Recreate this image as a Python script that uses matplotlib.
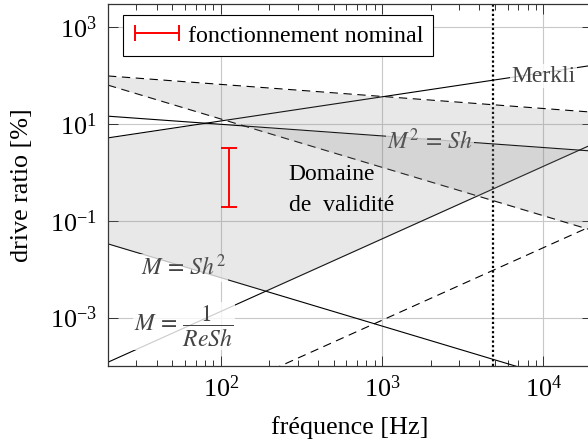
import numpy as np
import matplotlib
matplotlib.use('Agg')
from matplotlib import pyplot as plt
from matplotlib.container import ErrorbarContainer
from matplotlib.legend_handler import HandlerErrorbar
from matplotlib.ticker import LogLocator, NullLocator, NullFormatter

plt.rcParams['font.family'] = ['Liberation Serif', 'DejaVu Serif']
plt.rcParams['mathtext.fontset'] = 'stix'
plt.rcParams['font.size'] = 17

# frequences [Hz] aux bords du graphe
freq = [20, 20000]

# drive ratio [%] a ces deux frequences - lignes pleines
merkli = [5.2, 164]
m2_sh = [14.6, 2.78]
m_sh2 = [0.0335, 3.35e-5]
m_resh = [1.2e-4, 3.8]

# memes limites - lignes en tirets
m2_sh_b = [99, 17.7]
m_sh2_b = [64, 0.064]
m_resh_b = [2.5e-6, 0.079]

f_limite = 4900
f_nominal = 113
dr_nominal = [0.19, 3.15]

LABEL_COLOR = '#444444'
DASH = (0, (7.5, 5))
BIG = 18.8

fg = np.logspace(np.log10(freq[0]), np.log10(freq[1]), 600)


def on_grid(vals):
    # droite en log-log entre les deux extremites
    return 10 ** np.interp(np.log10(fg), np.log10(freq), np.log10(vals))


fig = plt.figure(figsize=(5.88, 4.48), dpi=100)
ax = fig.add_axes([0.1837, 0.183, 0.823, 0.8074])
ax.set_xscale('log')
ax.set_yscale('log')

# droites
for vals in (merkli, m2_sh, m_sh2, m_resh):
    ax.plot(freq, vals, color='black', lw=0.8, zorder=2)
for vals in (m2_sh_b, m_sh2_b, m_resh_b):
    ax.plot(freq, vals, color='black', lw=0.8, ls=DASH, zorder=2)

ax.axvline(f_limite, color='black', lw=1.6, ls=(0, (1, 1.1)), zorder=2)

# domaines de validite
low_a = np.maximum(on_grid(m_sh2), on_grid(m_resh))
up_a = np.minimum(on_grid(merkli), on_grid(m2_sh))
ax.fill_between(fg, low_a, up_a, where=up_a > low_a, interpolate=True,
                color='0.5', alpha=0.18, lw=0, zorder=3.5)
low_b = np.maximum(on_grid(m_sh2_b), on_grid(m_resh_b))
up_b = on_grid(m2_sh_b)
ax.fill_between(fg, low_b, up_b, where=up_b > low_b, interpolate=True,
                color='0.5', alpha=0.18, lw=0, zorder=3.5)

# etiquettes
box = dict(fc='white', ec='none', alpha=0.8, pad=1)
ax.text(6350, 98, 'Merkli', ha='left', va='center', color=LABEL_COLOR,
        bbox=box, zorder=3)
ax.text(1980, 4.3, r'$M^2\,=\,Sh$', ha='center', va='center',
        color=LABEL_COLOR, bbox=box, zorder=3)
ax.text(58.9, 0.0107, r'$M\,=\,Sh^2$', ha='center', va='center',
        color=LABEL_COLOR, bbox=box, zorder=3)
ax.text(58.9, 6.6e-4, r'$M\,=\,\dfrac{1}{ReSh}$', ha='center', va='center',
        color=LABEL_COLOR, bbox=box, zorder=3)
ax.text(263, 0.43, 'Domaine\nde  validité', ha='left', va='center',
        color='black', linespacing=1.65, zorder=4)

# point de fonctionnement
c = np.sqrt(dr_nominal[0] * dr_nominal[1])
ax.errorbar([f_nominal], [c], yerr=[[c - dr_nominal[0]], [dr_nominal[1] - c]],
            fmt='none', ecolor='red', elinewidth=1.4, capsize=5.6,
            capthick=1.4, zorder=4)
proxy = ax.errorbar([np.nan], [np.nan], xerr=[1], fmt='none', ecolor='red',
                    elinewidth=1.4, capsize=5.6, capthick=1.4,
                    label='fonctionnement nominal')

leg = ax.legend(handles=[proxy], loc='upper left',
                bbox_to_anchor=(0.0316, 0.970), borderaxespad=0,
                fancybox=False, edgecolor='black', framealpha=1,
                handlelength=2.0, handletextpad=0.3, fontsize=17.3,
                handler_map={ErrorbarContainer: HandlerErrorbar(xerr_size=0.9)})
leg.get_frame().set_linewidth(0.8)
leg.set_zorder(6)

ax.set_xlim(freq[0], freq[1])
ax.set_ylim(1e-4, 3e3)
ax.set_xticks([1e2, 1e3, 1e4])
ax.xaxis.set_minor_locator(LogLocator(subs=np.arange(2, 10)))
ax.xaxis.set_minor_formatter(NullFormatter())
ax.set_yticks([1e-3, 1e-1, 1e1, 1e3])
ax.yaxis.set_minor_locator(NullLocator())

ax.grid(True, which='major', color='#c8c8c8', lw=0.8)
ax.set_axisbelow(True)
ax.tick_params(which='both', direction='in', top=True, right=True,
               width=0.7, color='#333333', labelsize=BIG)
ax.tick_params(which='major', length=7)
ax.tick_params(which='minor', length=4.5)
ax.tick_params(axis='y', pad=8)
ax.tick_params(axis='x', pad=7)
for s in ax.spines.values():
    s.set_linewidth(0.9)
    s.set_color('#333333')

ax.set_xlabel('fréquence [Hz]', fontsize=BIG, labelpad=10)
ax.set_ylabel('drive ratio [%]', fontsize=BIG, labelpad=12)

fig.savefig('out.png', dpi=100)
